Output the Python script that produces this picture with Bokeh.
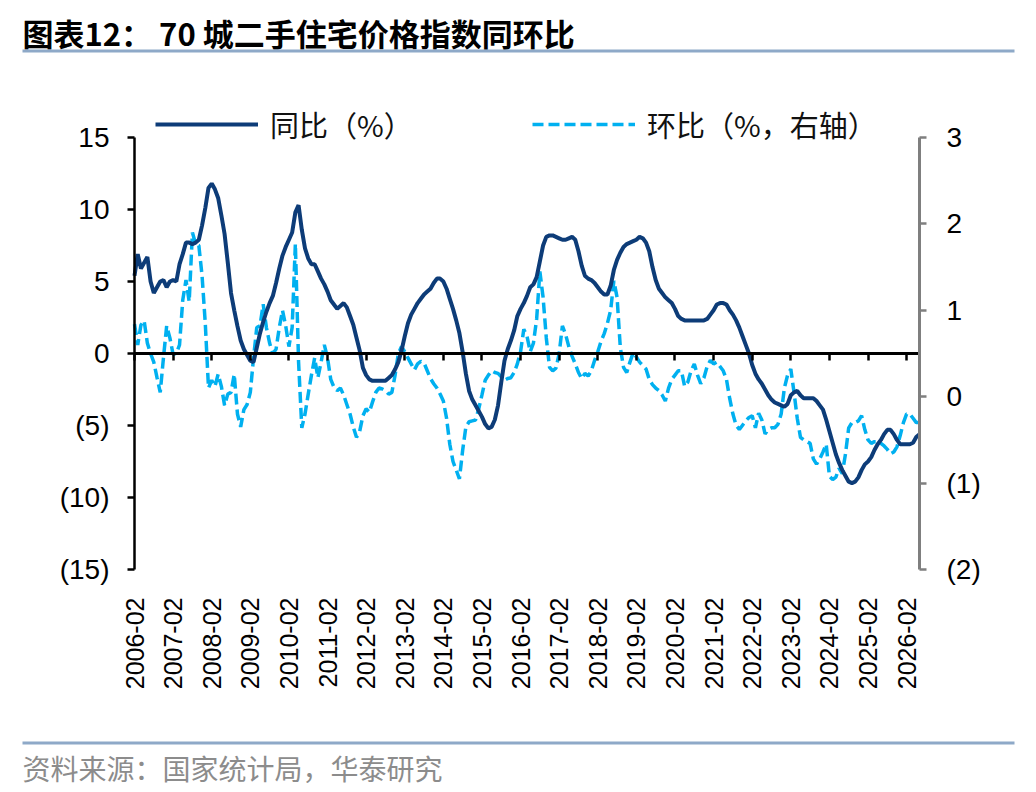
import math
import pandas as pd
from bokeh.plotting import figure
from bokeh.models import (Range1d, LinearAxis, FixedTicker, Legend, LegendItem,
                          Label, BoxAnnotation, ColumnDataSource)
from bokeh.embed import file_html
from bokeh.resources import INLINE

# ---------------- data ----------------
months = list(pd.date_range("2006-02-01", periods=245, freq="MS").strftime("%Y-%m"))

yoy = [
    5.4, 6.9, 5.9, 6.3, 6.7, 5.0, 4.2, 4.6, 5.0, 5.1, 4.6, 5.0,
    5.1, 5.0, 6.2, 6.9, 7.7, 7.7, 7.6, 7.7, 7.9, 8.9, 10.1, 11.5,
    11.8, 11.4, 10.8, 9.6, 8.3, 6.3, 4.2, 3.0, 1.9, 0.9, 0.3, -0.1,
    -0.5, -0.6, 0.4, 1.4, 2.2, 2.9, 3.5, 4.0, 4.9, 5.9, 6.8, 7.4,
    7.9, 8.4, 9.8, 10.3, 8.6, 7.3, 6.6, 6.2, 6.2, 5.7, 5.2, 4.8,
    4.3, 3.7, 3.4, 3.1, 3.3, 3.5, 3.2, 2.6, 2.0, 1.1, 0.2, -1.0,
    -1.5, -1.8, -1.9, -1.9, -1.9, -1.9, -1.9, -1.7, -1.5, -1.1, -0.6, 0.2,
    1.2, 2.1, 2.7, 3.1, 3.5, 3.8, 4.1, 4.3, 4.5, 4.9, 5.2, 5.2,
    5.0, 4.5, 3.8, 3.1, 2.3, 1.4, 0.1, -1.4, -2.6, -3.2, -3.6, -4.0,
    -4.4, -4.9, -5.2, -5.1, -4.6, -3.6, -2.0, -0.5, 0.3, 0.9, 1.6, 2.6,
    3.1, 3.5, 4.0, 4.6, 4.8, 5.3, 6.4, 7.5, 8.1, 8.2, 8.2, 8.1,
    8.0, 7.9, 7.9, 8.0, 8.1, 7.9, 7.1, 6.1, 5.4, 5.2, 5.1, 4.9,
    4.6, 4.3, 4.1, 4.1, 4.7, 5.8, 6.5, 7.0, 7.4, 7.6, 7.7, 7.8,
    7.9, 8.1, 8.0, 7.7, 7.1, 6.0, 5.1, 4.5, 4.2, 3.9, 3.7, 3.5,
    3.1, 2.6, 2.4, 2.3, 2.3, 2.3, 2.3, 2.3, 2.3, 2.3, 2.4, 2.7,
    3.0, 3.4, 3.5, 3.5, 3.4, 3.0, 2.7, 2.3, 1.8, 1.2, 0.6, 0.0,
    -0.8, -1.4, -1.8, -2.1, -2.5, -2.9, -3.2, -3.4, -3.5, -3.6, -3.7, -3.5,
    -2.9, -2.7, -2.6, -2.9, -3.1, -3.1, -3.1, -3.1, -3.3, -3.6, -3.9, -4.6,
    -5.4, -6.2, -7.0, -7.6, -8.1, -8.5, -8.9, -9.0, -8.9, -8.6, -8.1, -7.7,
    -7.5, -7.2, -6.7, -6.3, -6.0, -5.6, -5.3, -5.3, -5.6, -6.0, -6.3, -6.3,
    -6.3, -6.3, -6.2, -5.8, -5.6,
]

mom = [
    0.84, 0.60, 0.83, 0.88, 0.62, 0.50, 0.40, 0.22, 0.05, 0.45, 0.82, 0.68,
    0.49, 0.50, 0.60, 1.12, 1.35, 1.10, 1.90, 1.77, 1.75, 1.40, 0.85, 0.10,
    0.19, 0.12, 0.26, 0.12, -0.10, 0.03, 0.05, 0.26, -0.20, -0.35, -0.15, -0.09,
    0.05, 0.45, 0.80, 0.82, 1.07, 0.80, 0.62, 0.50, 0.55, 0.80, 1.00, 0.82,
    0.58, 0.80, 1.77, 0.40, -0.36, -0.20, 0.03, 0.25, 0.45, 0.22, 0.40, 0.60,
    0.45, 0.20, 0.11, 0.07, 0.10, 0.02, -0.09, -0.20, -0.35, -0.47, -0.40, -0.22,
    -0.14, -0.18, -0.06, 0.05, 0.10, 0.09, 0.07, 0.03, 0.05, 0.25, 0.50, 0.58,
    0.52, 0.45, 0.38, 0.31, 0.38, 0.41, 0.39, 0.30, 0.21, 0.15, 0.10, 0.03,
    -0.05, -0.25, -0.55, -0.75, -0.85, -0.95, -0.62, -0.35, -0.29, -0.28, -0.27, -0.14,
    0.02, 0.19, 0.25, 0.30, 0.28, 0.27, 0.23, 0.19, 0.21, 0.22, 0.28, 0.38,
    0.52, 0.78, 0.70, 0.52, 0.62, 0.90, 1.45, 1.15, 0.68, 0.34, 0.30, 0.33,
    0.50, 0.82, 0.72, 0.58, 0.47, 0.38, 0.28, 0.21, 0.27, 0.24, 0.30, 0.42,
    0.52, 0.64, 0.73, 0.85, 1.00, 1.34, 1.15, 0.57, 0.34, 0.28, 0.40, 0.51,
    0.46, 0.40, 0.36, 0.32, 0.20, 0.14, 0.10, 0.07, 0.02, -0.05, 0.10, 0.20,
    0.25, 0.30, 0.30, 0.12, 0.17, 0.30, 0.38, 0.25, 0.15, 0.22, 0.35, 0.42,
    0.38, 0.40, 0.35, 0.30, 0.20, -0.02, -0.20, -0.33, -0.38, -0.33, -0.28, -0.24,
    -0.22, -0.36, -0.19, -0.27, -0.43, -0.38, -0.36, -0.36, -0.32, -0.20, 0.10, 0.25,
    0.32, 0.05, -0.25, -0.47, -0.50, -0.52, -0.54, -0.72, -0.78, -0.72, -0.64, -0.55,
    -0.92, -0.96, -0.93, -0.83, -0.89, -0.66, -0.36, -0.30, -0.30, -0.28, -0.22, -0.38,
    -0.50, -0.54, -0.52, -0.52, -0.54, -0.57, -0.61, -0.66, -0.64, -0.58, -0.45, -0.30,
    -0.20, -0.20, -0.25, -0.30, -0.30,
]

left_ticks = [-15, -10, -5, 0, 5, 10, 15]
right_ticks = [-2, -1, 0, 1, 2, 3]
label_step = 12

title_text = "图表12：  70 城二手住宅价格指数同环比"
source_text = "资料来源：国家统计局，华泰研究"
yoy_name = "同比（%）"
mom_name = "环比（%，右轴）"

# ---------------- layout (pixels) ----------------
W, H = 1030, 786
PX_L, PX_R = 134, 919      # plot area left / right
PX_T, PX_B = 137, 569      # plot area top / bottom
DARK = "#0D3C78"
LIGHT = "#00B0F0"
RULE = "#8EA9C8"
FONT_CJK = "Noto Sans CJK SC"
FONT_NUM = "Liberation Sans"

n = len(months)
x = list(range(n))
lo, hi = left_ticks[0], left_ticks[-1]
rlo, rhi = right_ticks[0], right_ticks[-1]

xs = (PX_R - PX_L) / (n - 1)            # px per month
ys = (PX_B - PX_T) / (hi - lo)          # px per left unit
x_start = 0 - PX_L / xs
x_end = (n - 1) + (W - PX_R) / xs
y_end = hi + PX_T / ys
y_start = lo - (H - PX_B) / ys
k = (rhi - rlo) / (hi - lo)
r_start = rlo + (y_start - lo) * k
r_end = rlo + (y_end - lo) * k

src = ColumnDataSource(dict(x=x, yoy=yoy, mom=mom, month=months))

p = figure(width=W, height=H, output_backend="svg", toolbar_location=None,
           x_range=Range1d(x_start, x_end), y_range=Range1d(y_start, y_end),
           x_axis_location=None, y_axis_location=None,
           min_border=0, min_border_left=0, min_border_right=0,
           min_border_top=0, min_border_bottom=0,
           outline_line_color=None, background_fill_color="white",
           border_fill_color="white")
p.xgrid.visible = False
p.ygrid.visible = False
p.extra_y_ranges = {"r": Range1d(r_start, r_end)}

tick_pos = x[::label_step]
label_map = {i: months[i] for i in tick_pos}

# bottom labels (axis fixed at the bottom of the value range)
xa = LinearAxis(fixed_location=lo, bounds=(0, n - 1),
                ticker=FixedTicker(ticks=tick_pos),
                major_label_overrides=label_map,
                major_label_orientation=math.pi / 2,
                axis_line_color=None, major_tick_line_color=None,
                minor_tick_line_color=None, major_label_standoff=22,
                major_label_text_font=FONT_NUM,
                major_label_text_font_size="25px",
                major_label_text_color="black")
p.add_layout(xa, "below")

# zero line with yearly ticks (minor ticks only -> no labels)
za = LinearAxis(fixed_location=0, bounds=(0, n - 1),
                ticker=FixedTicker(ticks=[], minor_ticks=tick_pos),
                axis_line_color="black", axis_line_width=3,
                major_tick_line_color=None,
                minor_tick_line_color="black", minor_tick_line_width=2.5,
                minor_tick_out=7, minor_tick_in=0)
p.add_layout(za, "below")

# left axis
ya = LinearAxis(fixed_location=0, bounds=(lo, hi),
                ticker=FixedTicker(ticks=left_ticks),
                major_label_overrides={t: (f"({abs(t)})" if t < 0 else str(t)) for t in left_ticks},
                axis_line_color="black", axis_line_width=2.5,
                major_tick_line_color="black", major_tick_line_width=2.5,
                major_tick_out=7, major_tick_in=0,
                minor_tick_line_color=None, major_label_standoff=18,
                major_label_text_font=FONT_NUM,
                major_label_text_font_size="28px",
                major_label_text_color="black")
p.add_layout(ya, "left")

# right axis
ra = LinearAxis(y_range_name="r", fixed_location=n - 1, bounds=(rlo, rhi),
                ticker=FixedTicker(ticks=right_ticks),
                major_label_overrides={t: (f"({abs(t)})" if t < 0 else str(t)) for t in right_ticks},
                axis_line_color="#7F7F7F", axis_line_width=3,
                major_tick_line_color="#7F7F7F", major_tick_line_width=2.5,
                major_tick_out=7, major_tick_in=0,
                minor_tick_line_color=None, major_label_standoff=20,
                major_label_text_font=FONT_NUM,
                major_label_text_font_size="28px",
                major_label_text_color="black")
p.add_layout(ra, "right")

r_mom = p.line("x", "mom", source=src, y_range_name="r", line_color=LIGHT,
               line_width=3.5, line_dash="11 5")
r_yoy = p.line("x", "yoy", source=src, line_color=DARK, line_width=4)

legend = Legend(items=[LegendItem(label=yoy_name, renderers=[r_yoy]),
                       LegendItem(label=mom_name, renderers=[r_mom])],
                orientation="horizontal", location=(155, H - 145),
                glyph_width=103, glyph_height=32, label_height=32,
                label_standoff=12, label_width=240, spacing=22,
                padding=0, margin=0,
                border_line_color=None, background_fill_alpha=0,
                label_text_font=FONT_CJK, label_text_font_size="29px",
                label_text_color="#111111")
p.add_layout(legend)

# title, rules and source (screen units: from frame bottom-left)
p.add_layout(Label(x=22, y=H - 32, x_units="screen", y_units="screen",
                   text=title_text, text_font=FONT_CJK, text_font_style="bold",
                   text_font_size="31px", text_color="black",
                   text_baseline="middle", text_align="left"))
p.add_layout(BoxAnnotation(left=22, right=1014, top=H - 49, bottom=H - 52,
                           left_units="screen", right_units="screen",
                           top_units="screen", bottom_units="screen",
                           fill_color=RULE, fill_alpha=1, line_color=None))
p.add_layout(BoxAnnotation(left=22, right=1014, top=H - 741, bottom=H - 744,
                           left_units="screen", right_units="screen",
                           top_units="screen", bottom_units="screen",
                           fill_color=RULE, fill_alpha=1, line_color=None))
p.add_layout(Label(x=22, y=H - 767, x_units="screen", y_units="screen",
                   text=source_text, text_font=FONT_CJK,
                   text_font_size="28px", text_color="#8C8C8C",
                   text_baseline="middle", text_align="left"))

open("out.html", "w").write(file_html(p, INLINE))
